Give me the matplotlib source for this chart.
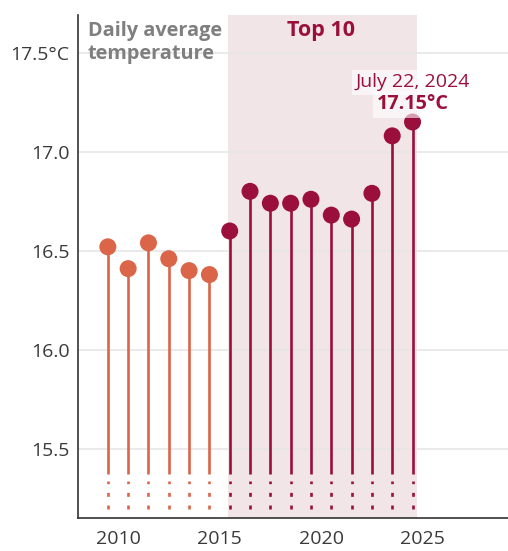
import matplotlib.pyplot as plt
import numpy as np

plt.rcParams['font.family'] = ['Open Sans', 'DejaVu Sans']

# hottest day of each year (global daily average, deg C)
years = [2009, 2010, 2011, 2012, 2013, 2014, 2015, 2016,
         2017, 2018, 2019, 2020, 2021, 2022, 2023, 2024]
temps = [16.52, 16.41, 16.54, 16.46, 16.40, 16.38, 16.60, 16.80,
         16.74, 16.74, 16.76, 16.68, 16.66, 16.79, 17.08, 17.15]
top10 = [False] * 6 + [True] * 10

yticks = [15.5, 16.0, 16.5, 17.0, 17.5]
ytick_labels = ['15.5', '16.0', '16.5', '17.0', '17.5°C']
xticks = [2010, 2015, 2020, 2025]

orange = '#db6548'
crimson = '#9b0f3d'

fig = plt.figure(figsize=(5.08, 5.51), dpi=100)
ax = fig.add_axes([0.1535, 0.0604, 0.8465, 0.9124])

x = np.array(years) + 0.5
t = np.array(temps)
cols = [crimson if f else orange for f in top10]

ax.axvspan(2015.43, 2024.72, color='#f1e5e8', zorder=0, lw=0)

ax.vlines(x, 15.375, t, colors=cols, lw=1.9, zorder=2)
ax.vlines(x, 15.196, 15.34, colors=cols, lw=1.9, zorder=2,
          linestyles=(0, (1.5, 3.3)))
ax.scatter(x, t, s=150, c=cols, zorder=3, lw=0)

ax.set_xlim(2008.03, 2029.2)
ax.set_ylim(15.153, 17.69)
ax.set_yticks(yticks)
ax.set_yticklabels(ytick_labels)
ax.set_xticks(xticks)
ax.tick_params(length=0, labelsize=14, colors='#3a3a3a')
ax.tick_params(axis='y', pad=6)
ax.tick_params(axis='x', pad=9)
ax.grid(axis='y', color='#e6e6e6', lw=1.2, zorder=1)
ax.set_axisbelow(True)
for s in ['top', 'right']:
    ax.spines[s].set_visible(False)
for s in ['left', 'bottom']:
    ax.spines[s].set_color('#333333')
    ax.spines[s].set_linewidth(1.2)

ax.text(2008.5, 17.66, 'Daily average\ntemperature', ha='left', va='top',
        fontsize=14.3, fontweight='bold', color='#7f7f7f', linespacing=1.2,
        zorder=4)
ax.text(2020.0, 17.61, 'Top 10', ha='center', va='center', fontsize=15.5,
        fontweight='bold', color=crimson)
box = dict(facecolor='white', edgecolor='none', pad=2.5, alpha=0.6)
ax.text(2024.5, 17.35, 'July 22, 2024', ha='center', va='center',
        fontsize=14, color=crimson, bbox=box)
ax.text(2024.5, 17.24, '17.15°C', ha='center', va='center', fontsize=14.3,
        fontweight='bold', color=crimson, bbox=box)

fig.savefig('out.png', dpi=100)
